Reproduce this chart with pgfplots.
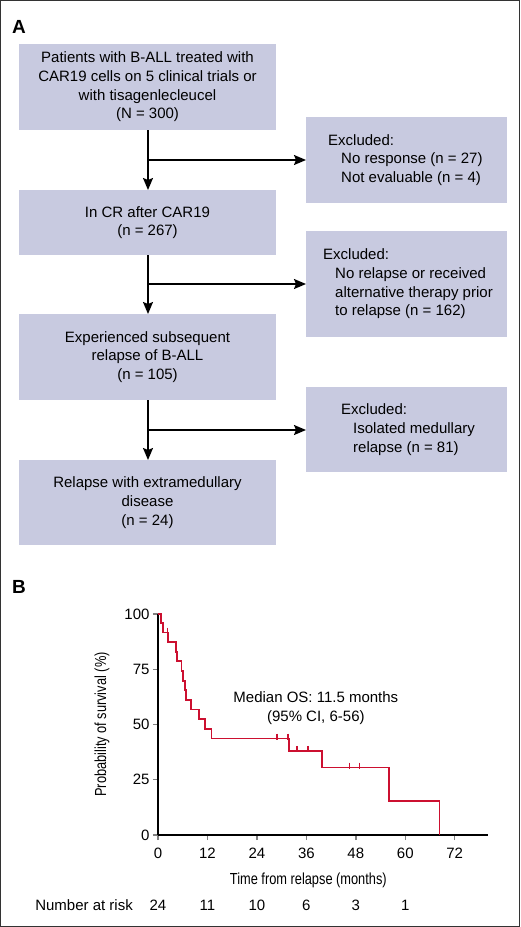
\documentclass[border=0pt]{standalone}
\usepackage{fontspec}
\setmainfont{Liberation Sans}
\newfontfamily\narrowfont[FakeStretch=0.8]{Liberation Sans}
\usepackage{pgfplots}
\pgfplotsset{compat=1.18}
\usetikzlibrary{arrows.meta}

\definecolor{boxfill}{RGB}{200,202,224}
\definecolor{kmred}{RGB}{204,16,48}

\newcommand{\fc}{\fontsize{15}{18.7}\selectfont}

\begin{document}
\begin{tikzpicture}
  \useasboundingbox (0pt,0pt) rectangle (520pt,-927pt);

  % panel A: flowchart (1 unit = 1 px of the reference, y downwards)
  \begin{scope}[x=1pt, y=-1pt]
    \fill[boxfill] (19,44) rectangle (276,130);
    \fill[boxfill] (19,190) rectangle (276,255);
    \fill[boxfill] (19,314) rectangle (276,400);
    \fill[boxfill] (19,460) rectangle (276,545);
    \fill[boxfill] (306,117) rectangle (507,203);
    \fill[boxfill] (306,231) rectangle (507,337);
    \fill[boxfill] (306,387) rectangle (507,472);

    \node[align=center, font=\fc, inner sep=0] at (147.5,87)
      {Patients with B-ALL treated with\\CAR19 cells on 5 clinical trials or\\with tisagenlecleucel\\(N = 300)};
    \node[align=center, font=\fc, inner sep=0] at (147.5,222.5)
      {In CR after CAR19\\(n = 267)};
    \node[align=center, font=\fc, inner sep=0] at (147.5,357)
      {Experienced subsequent\\relapse of B-ALL\\(n = 105)};
    \node[align=center, font=\fc, inner sep=0] at (147.5,502.5)
      {Relapse with extramedullary\\disease\\(n = 24)};

    \node[align=left, font=\fc, inner sep=0, anchor=west] at (328,160)
      {Excluded:\\\hspace*{13pt}No response (n = 27)\\\hspace*{13pt}Not evaluable (n = 4)};
    \node[align=left, font=\fc, inner sep=0, anchor=west] at (323,284)
      {Excluded:\\\hspace*{12pt}No relapse or received\\\hspace*{12pt}alternative therapy prior\\\hspace*{12pt}to relapse (n = 162)};
    \node[align=left, font=\fc, inner sep=0, anchor=west] at (341,429.5)
      {Excluded:\\\hspace*{12pt}Isolated medullary\\\hspace*{12pt}relapse (n = 81)};

    \begin{scope}[line width=1.7pt, -{Stealth[length=12pt, width=10pt, inset=2pt]}]
      \draw (148,130) -- (148,190);
      \draw (148,160) -- (306,160);
      \draw (148,255) -- (148,314);
      \draw (148,284) -- (306,284);
      \draw (148,400) -- (148,460);
      \draw (148,430) -- (306,430);
    \end{scope}

    \node[anchor=base west, inner sep=0, font=\fontsize{19}{19}\selectfont\bfseries] at (12,33) {A};
    \node[anchor=base west, inner sep=0, font=\fontsize{19}{19}\selectfont\bfseries] at (12,593) {B};
  \end{scope}

  % panel B: Kaplan-Meier curve
  \begin{axis}[
      at={(158pt,-835pt)}, anchor=south west,
      scale only axis, width=329.7pt, height=221pt,
      xmin=0, xmax=80, ymin=0, ymax=100,
      axis lines*=left,
      axis line style={line width=1.6pt, -},
      xtick={0,12,...,72}, ytick={0,25,...,100},
      tick align=outside, major tick length=5pt,
      tick style={line width=1.4pt},
      /pgf/number format/assume math mode=true,
      tick label style={font=\fontsize{15}{18}\selectfont},
      xticklabel style={yshift=-4pt},
      xlabel={Time from relapse (months)},
      ylabel={Probability of survival (\%)},
      label style={font=\narrowfont\fontsize{16}{18}\selectfont},
      xlabel style={at={(axis description cs:0.456,-0.204)}, anchor=center},
      ylabel style={at={(axis description cs:-0.17,0.5)}, anchor=center},
      clip=false,
    ]
    \addplot[const plot, draw=kmred, mark=none, line width=1.8pt] coordinates {
      (0,100) (0.7,95.83) (1.3,91.67) (2.5,87.30) (4.3,82.94) (4.6,78.57)
      (5.7,74.21) (6.1,69.84) (6.5,65.48) (6.8,61.11) (8.0,56.75) (9.9,52.38)
      (11.4,48.02) (13.0,43.65) (31.8,38.19) (39.8,30.55) (56.1,15.28) (68.3,0)
    };
    \addplot[only marks, mark=|, mark size=3pt, draw=kmred,
             mark options={draw=kmred, line width=1.6pt, yshift=1.8pt}] coordinates {
      (2.3,91.67) (28.9,43.65) (31.5,43.65) (33.7,38.19) (36.4,38.19)
      (46.5,30.55) (48.9,30.55)
    };
    \node[align=center, font=\fontsize{15}{18.7}\selectfont, inner sep=0]
      at (axis cs:38.3,57.3) {Median OS: 11.5 months\\(95\% CI, 6-56)};
    \node[anchor=east, font=\fontsize{15}{18}\selectfont, inner sep=0]
      at (axis cs:-6.07,-31.7) {Number at risk};
    \node[font=\fontsize{15}{18}\selectfont, inner sep=0] at (axis cs:0,-31.7) {24};
    \node[font=\fontsize{15}{18}\selectfont, inner sep=0] at (axis cs:12,-31.7) {11};
    \node[font=\fontsize{15}{18}\selectfont, inner sep=0] at (axis cs:24,-31.7) {10};
    \node[font=\fontsize{15}{18}\selectfont, inner sep=0] at (axis cs:36,-31.7) {6};
    \node[font=\fontsize{15}{18}\selectfont, inner sep=0] at (axis cs:48,-31.7) {3};
    \node[font=\fontsize{15}{18}\selectfont, inner sep=0] at (axis cs:60,-31.7) {1};
  \end{axis}

  \draw[line width=1pt, black!80] (0.5pt,-0.5pt) rectangle (519.5pt,-926.5pt);
\end{tikzpicture}
\end{document}
